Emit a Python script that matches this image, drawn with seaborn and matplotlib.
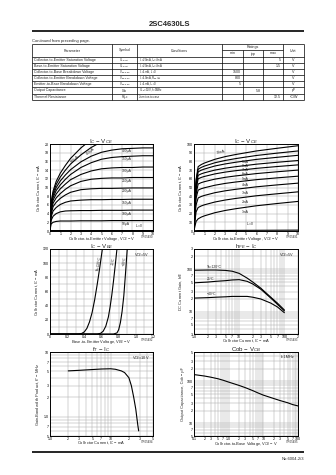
import matplotlib
matplotlib.use("Agg")
import matplotlib.pyplot as plt
import pandas as pd
import seaborn as sns
from matplotlib.ticker import FixedLocator, FixedFormatter, LogLocator, NullFormatter, MultipleLocator

sns.set_theme(style="white")
plt.rcParams['font.family'] = ['Liberation Sans', 'DejaVu Sans']
plt.rcParams['mathtext.fontset'] = 'custom'
plt.rcParams['mathtext.rm'] = 'Liberation Sans'
plt.rcParams['mathtext.it'] = 'Liberation Sans:italic'
plt.rcParams['mathtext.bf'] = 'Liberation Sans:bold'

# ---------------- electrical characteristics table ----------------
tbl_params = ["Collector-to-Emitter Saturation Voltage", "Base-to-Emitter Saturation Voltage",
              "Collector-to-Base Breakdown Voltage", "Collector-to-Emitter Breakdown Voltage",
              "Emitter-to-Base Breakdown Voltage", "Output Capacitance", "Thermal Resistance"]
tbl_symbols = ["V$_{CE(sat)}$", "V$_{BE(sat)}$", "V$_{(BR)CBO}$", "V$_{(BR)CEO}$",
               "V$_{(BR)EBO}$", "Cob", "Rθj-c"]
tbl_conditions = ["I$_C$=20mA, I$_B$=4mA", "I$_C$=20mA, I$_B$=4mA", "I$_C$=1mA, I$_E$=0",
                  "I$_C$=10mA, R$_{BE}$=∞", "I$_E$=1mA, I$_C$=0", "V$_{CB}$=10V, f=1MHz",
                  "Junction-to-case"]
tbl_min = ["", "", "1500", "800", "5", "", ""]
tbl_typ = ["", "", "", "", "", "5.8", ""]
tbl_max = ["5", "1.5", "", "", "", "", "12.5"]
tbl_unit = ["V", "V", "V", "V", "V", "pF", "°C/W"]

# ---------------- IC - VCE (small current) ----------------
vce_a = [0, 0.1, 0.3, 0.6, 1, 1.5, 2, 3, 4, 5, 6, 7, 8, 9, 10]
ic_a = {
    "0": [0, 0.1, 0.1, 0.1, 0.1, 0.1, 0.1, 0.1, 0.1, 0.1, 0.1, 0.1, 0.1, 0.1, 0.1],
    "50μA": [0, 1.6, 2.0, 2.2, 2.3, 2.3, 2.3, 2.35, 2.35, 2.35, 2.4, 2.4, 2.4, 2.4, 2.4],
    "100μA": [0, 2.4, 3.4, 4.0, 4.4, 4.6, 4.65, 4.7, 4.7, 4.75, 4.75, 4.75, 4.8, 4.8, 4.8],
    "150μA": [0, 3.2, 4.6, 5.4, 6.1, 6.6, 6.9, 7.1, 7.2, 7.2, 7.25, 7.25, 7.3, 7.3, 7.3],
    "200μA": [0, 3.8, 5.6, 6.6, 7.5, 8.3, 8.9, 9.5, 9.7, 9.8, 9.8, 9.85, 9.9, 9.9, 9.9],
    "250μA": [0, 4.4, 6.4, 7.6, 8.6, 9.6, 10.4, 11.4, 11.9, 12.1, 12.2, 12.2, 12.3, 12.3, 12.3],
    "300μA": [0, 4.9, 7.1, 8.5, 9.7, 10.8, 11.8, 13.0, 13.8, 14.3, 14.5, 14.6, 14.6, 14.7, 14.7],
    "350μA": [0, 5.3, 7.7, 9.3, 10.6, 11.9, 13.0, 14.6, 15.7, 16.5, 16.9, 17.1, 17.2, 17.3, 17.3],
    "400μA": [0, 5.7, 8.2, 10.0, 11.5, 12.9, 14.1, 15.9, 17.2, 18.1, 18.6, 18.9, 19.0, 19.1, 19.1],
    "450μA": [0, 6.1, 8.7, 10.7, 12.4, 14.0, 15.4, 17.5, 19.2, 20.5, 21.5, 22.0, 22.0, 22.0, 22.0],
    "500μA": [0, 6.5, 9.2, 11.4, 13.3, 15.1, 16.7, 19.1, 21.0, 22.5, 23.0, 23.0, 23.0, 23.0, 23.0],
}

# ---------------- IC - VCE (large current) ----------------
vce_b = [0, 0.1, 0.2, 0.4, 0.7, 1, 2, 3, 4, 6, 8, 10]
ic_b = {
    "0": [0, 0.3, 0.4, 0.5, 0.5, 0.5, 0.6, 0.6, 0.7, 0.8, 0.9, 1.0],
    "1mA": [0, 6, 11, 14, 16, 17.4, 21, 23.6, 25.6, 29, 31.6, 34],
    "2mA": [0, 12, 22, 27, 28.8, 30.1, 33.3, 35.6, 37.4, 40.5, 42.8, 45],
    "3mA": [0, 17, 30, 38, 39.7, 40.9, 44, 46.2, 47.9, 50.8, 53, 55],
    "4mA": [0, 21, 38, 47, 48.6, 49.7, 52.6, 54.7, 56.3, 59, 61.1, 63],
    "5mA": [0, 24, 43, 54, 55.6, 56.7, 59.6, 61.7, 63.3, 66, 68.1, 70],
    "6mA": [0, 27, 48, 60, 61.6, 62.7, 65.6, 67.7, 69.3, 72, 74.1, 76],
    "7mA": [0, 29, 51, 64, 65.7, 66.9, 70, 72.2, 73.9, 76.8, 79, 81],
    "8mA": [0, 31, 54, 68, 69.9, 71.2, 74.7, 77.1, 79, 82.3, 84.7, 87],
    "9mA": [0, 32, 57, 71, 73.1, 74.6, 78.4, 81.1, 83.2, 86.8, 89.5, 92],
    "10mA": [0, 33, 59, 74, 76.4, 78.1, 82.4, 85.5, 87.9, 92, 95.1, 98],
}

# ---------------- IC - VBE ----------------
vbe_c = {
    "Ta=120°C": [0, 0.33, 0.37, 0.40, 0.43, 0.46, 0.49, 0.52, 0.55, 0.58, 0.61],
    "25°C": [0, 0.55, 0.59, 0.62, 0.65, 0.68, 0.70, 0.72, 0.74, 0.76, 0.78],
    "−40°C": [0, 0.74, 0.78, 0.80, 0.82, 0.84, 0.86, 0.87, 0.88, 0.89, 0.90],
}
ic_c = {
    "Ta=120°C": [0, 0, 0.8, 3, 8, 17, 30, 48, 70, 94, 120],
    "25°C": [0, 0, 1, 4, 11, 24, 38, 55, 75, 97, 120],
    "−40°C": [0, 0, 1.5, 6, 16, 32, 54, 70, 86, 103, 120],
}

# ---------------- hFE - IC ----------------
ic_d = [1, 2, 3, 5, 7, 10, 15, 20, 30, 50, 70, 100]
hfe_d = {
    "Ta=120°C": [95, 96, 96, 94, 90, 80, 62, 50, 36, 22, 16, 11],
    "25°C": [48, 50, 52, 54, 56, 57, 52, 45, 34, 21, 15, 10.5],
    "−40°C": [21, 21.5, 22, 22.5, 23, 23, 23, 22, 20, 16, 13, 9.5],
}

# ---------------- fT - IC ----------------
ic_e = [2, 3, 5, 7, 10, 12, 15, 17, 20, 22, 24, 26, 28, 29]
ft_e = [5.1, 5.2, 5.35, 5.45, 5.5, 5.4, 5.1, 4.8, 4.0, 3.0, 2.0, 1.3, 0.75, 0.6]

# ---------------- Cob - VCB ----------------
vcb_f = [0.1, 0.2, 0.3, 0.5, 0.7, 1, 2, 3, 5, 7, 10, 20, 30, 50, 70, 100]
cob_f = [145, 134, 126, 115, 106, 96, 80, 71, 60, 53, 47, 39, 35, 31, 28, 26]

W, H = 336, 475
fig = plt.figure(figsize=(W / 100, H / 100), dpi=100)


def box(x0, y0, x1, y1):
    return [x0 / W, 1 - y1 / H, (x1 - x0) / W, (y1 - y0) / H]


# page furniture
page = fig.add_axes([0, 0, 1, 1], zorder=0)
page.set_xlim(0, W)
page.set_ylim(H, 0)
page.axis("off")
page.text(170, 25, "2SC4630LS", ha="center", va="center", fontsize=5.5, fontweight="bold")
page.hlines(31, 32, 304, color="black", lw=1.2)
page.hlines(452, 32, 304, color="black", lw=1.2)
page.text(304, 459, "No.6004-2/3", ha="right", va="center", fontsize=3)
page.text(32, 41, "Continued from preceding page.", ha="left", va="center", fontsize=3)

col_x = [32, 112, 137, 222, 243, 263, 283, 304]
row_y = [44, 57, 63, 69, 75, 81, 87, 94, 100]
lw_t = 0.5
for y in [44] + row_y[1:]:
    page.hlines(y, 32, 304, color="black", lw=lw_t)
page.hlines(50, 222, 283, color="black", lw=lw_t)
for x in [32, 112, 137, 222, 283, 304]:
    page.vlines(x, 44, 100, color="black", lw=lw_t)
for x in [243, 263]:
    page.vlines(x, 50, 100, color="black", lw=lw_t)
fs_t = 2.6
fs_sym = 2.0
page.text(72, 50.5, "Parameter", ha="center", va="center", fontsize=fs_t)
page.text(124.5, 50.5, "Symbol", ha="center", va="center", fontsize=fs_t)
page.text(179.5, 50.5, "Conditions", ha="center", va="center", fontsize=fs_t)
page.text(252.5, 47, "Ratings", ha="center", va="center", fontsize=fs_t)
page.text(232.5, 53.5, "min", ha="center", va="center", fontsize=fs_t)
page.text(253, 53.5, "typ", ha="center", va="center", fontsize=fs_t)
page.text(273, 53.5, "max", ha="center", va="center", fontsize=fs_t)
page.text(293.5, 50.5, "Unit", ha="center", va="center", fontsize=fs_t)
for i in range(len(tbl_params)):
    yc = (row_y[i + 1] + row_y[i + 2]) / 2
    page.text(34, yc, tbl_params[i], ha="left", va="center", fontsize=fs_t)
    page.text(124.5, yc, tbl_symbols[i], ha="center", va="center", fontsize=fs_sym)
    page.text(139, yc, tbl_conditions[i], ha="left", va="center", fontsize=fs_sym)
    page.text(241, yc, tbl_min[i], ha="right", va="center", fontsize=fs_t)
    page.text(261, yc, tbl_typ[i], ha="right", va="center", fontsize=fs_t)
    page.text(281, yc, tbl_max[i], ha="right", va="center", fontsize=fs_t)
    page.text(293.5, yc, tbl_unit[i], ha="center", va="center", fontsize=fs_t)

TICK_FS = 2.6
LAB_FS = 2.9
TITLE_FS = 4.4
GRID_C = "#a8a8a8"
CURVE_FS = 2.4


def frame(ax, title, xlabel, ylabel, code):
    for s in ax.spines.values():
        s.set_color("black")
        s.set_linewidth(0.7)
    ax.tick_params(which="both", length=0, labelsize=TICK_FS, pad=0.7, colors="black")
    ax.grid(True, which="both", color=GRID_C, linewidth=0.35)
    ax.set_axisbelow(True)
    ax.set_title(title, fontsize=TITLE_FS, pad=0.5)
    ax.set_xlabel(xlabel, fontsize=LAB_FS)
    ax.xaxis.set_label_coords(0.5, -0.042)
    ax.set_ylabel(ylabel, fontsize=LAB_FS, labelpad=1.2)
    ax.text(1.0, -0.07, code, transform=ax.transAxes, fontsize=2.0, ha="right", va="center")


def log_ticks(axis, ticks, labels):
    axis.set_major_locator(FixedLocator(ticks))
    axis.set_major_formatter(FixedFormatter(labels))
    axis.set_minor_locator(LogLocator(base=10, subs=range(1, 10)))
    axis.set_minor_formatter(NullFormatter())


def draw_family(ax, xs, curves, lw=0.8):
    rows = []
    for name, ys in curves.items():
        xv = xs[name] if isinstance(xs, dict) else xs
        for a, b in zip(xv, ys):
            rows.append((name, a, b))
    df = pd.DataFrame(rows, columns=["curve", "x", "y"])
    sns.lineplot(data=df, x="x", y="y", hue="curve", palette={k: "black" for k in curves},
                 estimator=None, sort=False, legend=False, linewidth=lw, ax=ax)


# ---- IC - VCE (mA range) ----
ax1 = fig.add_axes(box(50, 144, 153, 231))
draw_family(ax1, vce_a, ic_a)
ax1.set_xlim(0, 10)
ax1.set_ylim(0, 20)
ax1.xaxis.set_major_locator(MultipleLocator(1))
ax1.yaxis.set_major_locator(MultipleLocator(2))
frame(ax1, "I$_C$ − V$_{CE}$", "Collector-to-Emitter Voltage, V$_{CE}$ − V",
      "Collector Current, I$_C$ − mA", "ITR05490")
for name in ["50μA", "100μA", "150μA", "200μA", "250μA", "300μA", "350μA", "400μA"]:
    ax1.text(7.0, ic_a[name][-1] - 0.35, name, fontsize=CURVE_FS, ha="left", va="top")
ax1.text(8.3, 0.25, "I$_B$=0", fontsize=CURVE_FS, ha="left", va="bottom")
ax1.text(2.4, 16.6, "500μA", fontsize=CURVE_FS, rotation=42, ha="center", va="center")
ax1.text(3.9, 18.4, "450μA", fontsize=CURVE_FS, rotation=38, ha="center", va="center")

# ---- IC - VCE (large range) ----
ax2 = fig.add_axes(box(194, 144, 298, 231))
draw_family(ax2, vce_b, ic_b)
ax2.set_xlim(0, 10)
ax2.set_ylim(0, 100)
ax2.xaxis.set_major_locator(MultipleLocator(1))
ax2.yaxis.set_major_locator(MultipleLocator(10))
frame(ax2, "I$_C$ − V$_{CE}$", "Collector-to-Emitter Voltage, V$_{CE}$ − V",
      "Collector Current, I$_C$ − mA", "ITR05491")
for name in ["1mA", "2mA", "3mA", "4mA", "5mA", "6mA", "7mA", "8mA", "9mA"]:
    ax2.text(4.6, ic_b[name][8] - 1.5, name, fontsize=CURVE_FS, ha="left", va="top")
ax2.text(2.6, ic_b["10mA"][7] + 2.0, "10mA", fontsize=CURVE_FS, ha="center", va="bottom", rotation=12)
ax2.text(5.0, 3.0, "I$_B$=0", fontsize=CURVE_FS, ha="left", va="bottom")

# ---- IC - VBE ----
ax3 = fig.add_axes(box(50, 249, 153, 334))
draw_family(ax3, vbe_c, ic_c)
ax3.set_xlim(0, 1.2)
ax3.set_ylim(0, 120)
ax3.xaxis.set_major_locator(FixedLocator([0, 0.2, 0.4, 0.6, 0.8, 1.0, 1.2]))
ax3.xaxis.set_major_formatter(FixedFormatter(["0", "0.2", "0.4", "0.6", "0.8", "1.0", "1.2"]))
ax3.xaxis.set_minor_locator(MultipleLocator(0.1))
ax3.yaxis.set_major_locator(MultipleLocator(20))
ax3.yaxis.set_minor_locator(MultipleLocator(10))
frame(ax3, "I$_C$ − V$_{BE}$", "Base-to-Emitter Voltage, V$_{BE}$ − V",
      "Collector Current, I$_C$ − mA", "ITR05492")
ax3.text(0.97, 0.97, "V$_{CE}$=5V", transform=ax3.transAxes, fontsize=2.8, ha="right", va="top")
ax3.text(0.575, 100, "Ta=120°C", fontsize=CURVE_FS, rotation=80, ha="center", va="center")
ax3.text(0.745, 103, "25°C", fontsize=CURVE_FS, rotation=80, ha="center", va="center")
ax3.text(0.865, 103, "−40°C", fontsize=CURVE_FS, rotation=80, ha="center", va="center")

# ---- hFE - IC ----
ax4 = fig.add_axes(box(194, 249, 298, 334))
ax4.set_xscale("log")
ax4.set_yscale("log")
draw_family(ax4, ic_d, hfe_d)
ax4.set_xlim(1, 200)
ax4.set_ylim(3, 300)
log_ticks(ax4.xaxis, [1, 2, 3, 5, 7, 10, 20, 30, 50, 70, 100, 200],
          ["1.0", "2", "3", "5", "7", "10", "2", "3", "5", "7", "100", "2"])
log_ticks(ax4.yaxis, [3, 5, 7, 10, 20, 30, 50, 70, 100, 200, 300],
          ["3", "5", "7", "10", "2", "3", "5", "7", "100", "2", "3"])
frame(ax4, "h$_{FE}$ − I$_C$", "Collector Current, I$_C$ − mA", "DC Current Gain, h$_{FE}$", "ITR05493")
ax4.text(0.97, 0.97, "V$_{CE}$=5V", transform=ax4.transAxes, fontsize=2.8, ha="right", va="top")
for name in hfe_d:
    ax4.text(1.9, hfe_d[name][1] * 1.08, name, fontsize=CURVE_FS, ha="left", va="bottom")

# ---- fT - IC ----
ax5 = fig.add_axes(box(50, 352, 153, 436))
ax5.set_xscale("log")
ax5.set_yscale("log")
sns.lineplot(x=ic_e, y=ft_e, color="black", linewidth=0.8, sort=False, ax=ax5)
ax5.set_xlim(1, 50)
ax5.set_ylim(0.5, 10)
log_ticks(ax5.xaxis, [1, 2, 3, 5, 7, 10, 20, 30, 50], ["1.0", "2", "3", "5", "7", "10", "2", "3", "5"])
log_ticks(ax5.yaxis, [0.5, 0.7, 1, 2, 3, 5, 7, 10], ["5", "7", "1.0", "2", "3", "5", "7", "10"])
frame(ax5, "f$_T$ − I$_C$", "Collector Current, I$_C$ − mA",
      "Gain-Bandwidth Product, f$_T$ − MHz", "ITR05494")
ax5.text(0.97, 0.97, "V$_{CE}$=10V", transform=ax5.transAxes, fontsize=2.8, ha="right", va="top")

# ---- Cob - VCB ----
ax6 = fig.add_axes(box(194, 352, 298, 436))
ax6.set_xscale("log")
ax6.set_yscale("log")
sns.lineplot(x=vcb_f, y=cob_f, color="black", linewidth=0.8, sort=False, ax=ax6)
ax6.set_xlim(0.1, 100)
ax6.set_ylim(5, 500)
log_ticks(ax6.xaxis, [0.1, 0.2, 0.3, 0.5, 0.7, 1, 2, 3, 5, 7, 10, 20, 30, 50, 70, 100],
          ["0.1", "2", "3", "5", "7", "1.0", "2", "3", "5", "7", "10", "2", "3", "5", "7", "100"])
log_ticks(ax6.yaxis, [5, 7, 10, 20, 30, 50, 70, 100, 200, 300, 500],
          ["5", "7", "10", "2", "3", "5", "7", "100", "2", "3", "5"])
frame(ax6, "Cob − V$_{CB}$", "Collector-to-Base Voltage, V$_{CB}$ − V",
      "Output Capacitance, Cob − pF", "ITR05495")
ax6.text(0.97, 0.97, "f=1MHz", transform=ax6.transAxes, fontsize=2.8, ha="right", va="top")

fig.savefig("out.png", dpi=100)
